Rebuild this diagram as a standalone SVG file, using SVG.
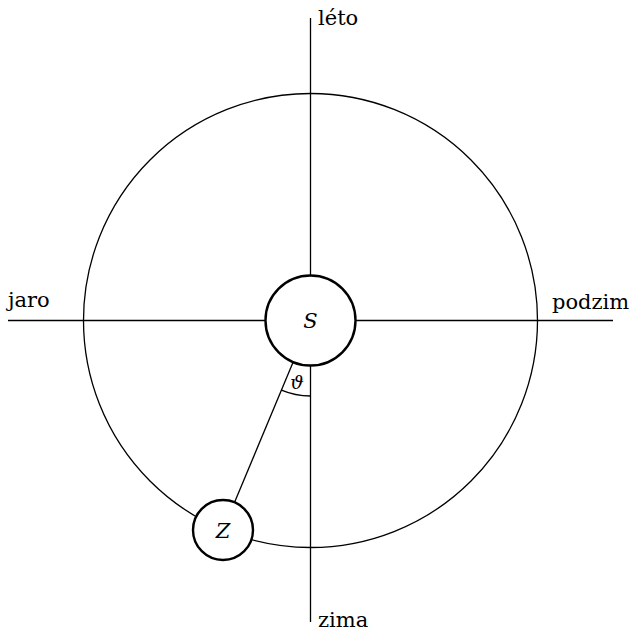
<svg xmlns="http://www.w3.org/2000/svg" width="631" height="632" viewBox="0 0 631 632">
<style>
.l{stroke:#000;stroke-width:1.3;fill:none}
.n{stroke:#000;stroke-width:2.4;fill:#fff}
text{font-family:'DejaVu Serif',serif;font-size:21px;fill:#000}
.i{font-style:italic}
</style>
<rect width="631" height="632" fill="#fff"/>
<g id="connectors">
<line class="l" x1="310.5" y1="18" x2="310.5" y2="622"/>
<line class="l" x1="8" y1="320.5" x2="613" y2="320.5"/>
<circle class="l" cx="310.5" cy="320.5" r="227"/>
<line class="l" x1="310.5" y1="320.5" x2="223" y2="530"/>
<path class="l" d="M281.4 390.2 A75.5 75.5 0 0 0 310.5 396"/>
</g>
<g id="S"><circle class="n" cx="310.5" cy="320.5" r="45"/><text class="i" x="310.5" y="328" text-anchor="middle">S</text></g>
<g id="Z"><circle class="n" cx="223" cy="530" r="30"/><text class="i" x="223" y="538" text-anchor="middle">Z</text></g>
<g id="theta"><text class="i" x="297" y="389" text-anchor="middle" style="font-size:19px">ϑ</text></g>
<g id="leto"><text x="318" y="25">léto</text></g>
<g id="zima"><text x="318" y="627">zima</text></g>
<g id="jaro"><text x="8" y="307">jaro</text></g>
<g id="podzim"><text x="552" y="309">podzim</text></g>
</svg>
